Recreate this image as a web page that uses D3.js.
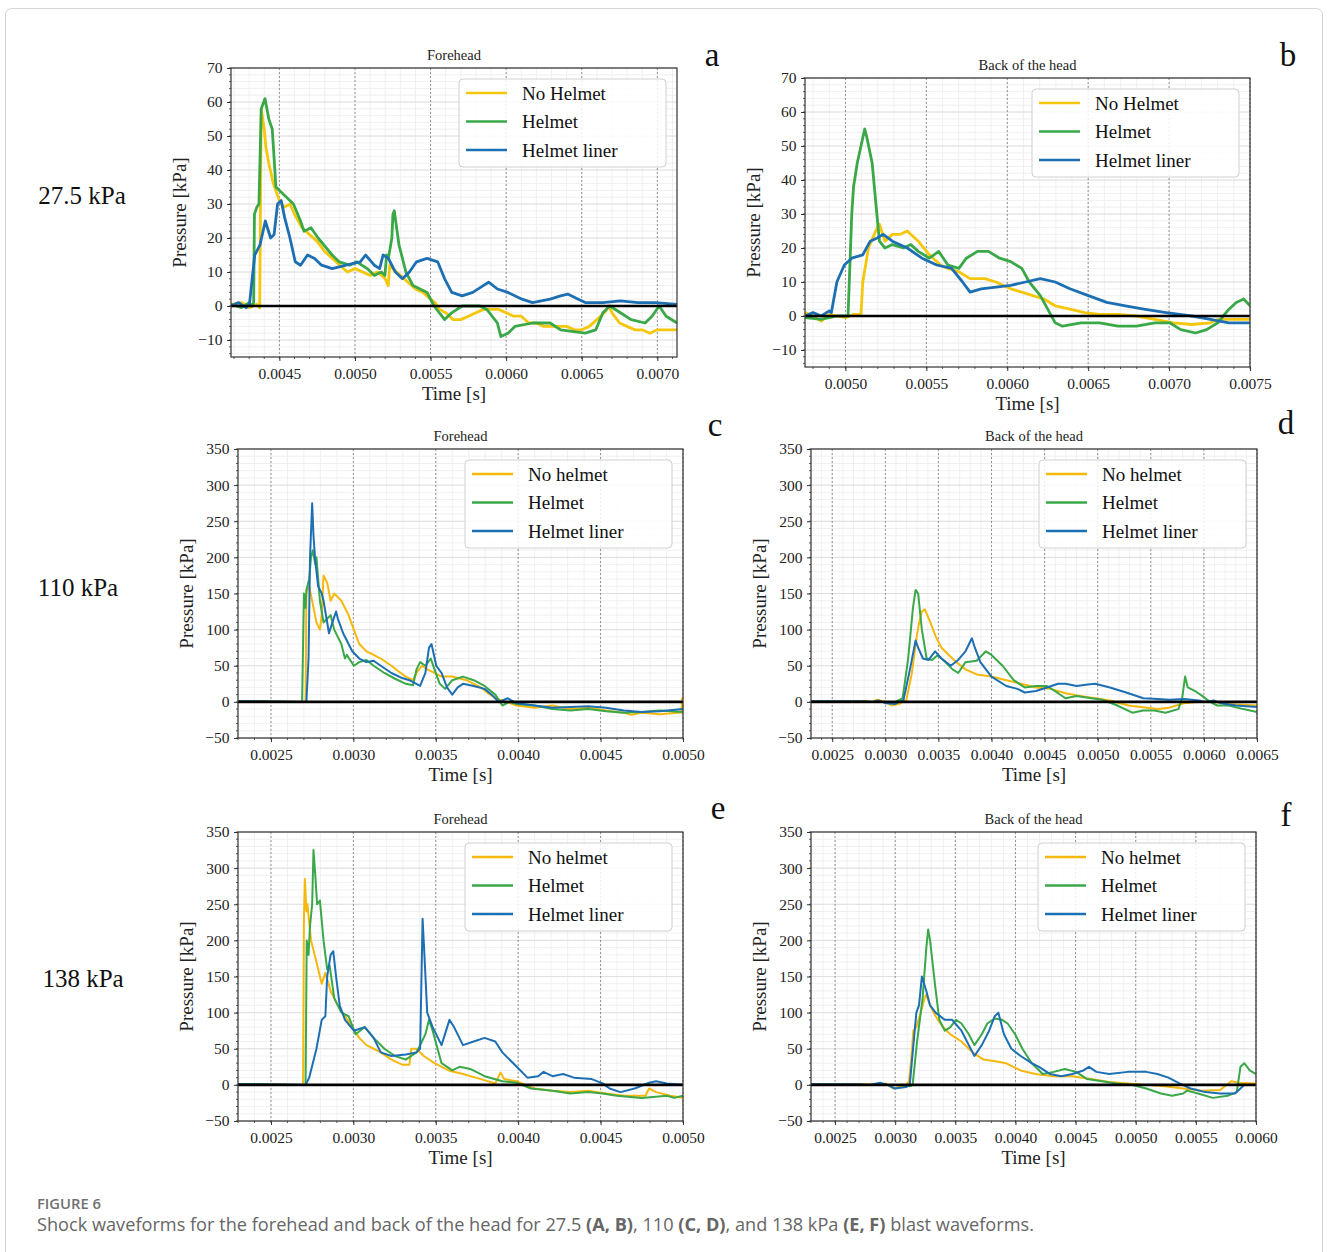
<!DOCTYPE html>
<html>
<head>
<meta charset="utf-8">
<script src="https://cdn.jsdelivr.net/npm/d3@7"></script>
<style>
  body { margin: 0; background: #fff; }
  svg { display: block; }
</style>
</head>
<body>
<div id="root"></div>
<script>
// values, time in microseconds, pressure in kPa
const aNoHelmet = [[4180,0.5],[4250,1],[4300,-0.5],[4350,0.5],[4370,-0.5],[4375,30],[4380,58],[4390,55],[4400,52],[4410,47],[4430,42],[4460,36],[4500,31],[4530,29],[4570,30],[4600,27],[4650,23],[4700,21],[4750,19],[4800,16],[4850,14],[4900,12],[4950,10],[5000,11],[5050,10],[5100,9],[5150,10],[5200,8],[5220,6],[5230,12],[5250,11],[5300,9],[5350,7],[5400,5],[5450,4],[5500,2],[5530,1],[5560,-1],[5600,-2],[5650,-4],[5700,-4],[5750,-3],[5800,-2],[5850,-1],[5900,-1],[5950,-1],[6000,-2],[6050,-3],[6100,-3],[6150,-5],[6200,-5],[6250,-6],[6300,-6],[6350,-6],[6400,-6],[6450,-7],[6500,-7],[6550,-6],[6600,-4],[6650,-2],[6680,0],[6700,-2],[6750,-5],[6800,-6],[6850,-7],[6900,-7],[6950,-8],[7000,-7],[7130,-7]];
const aHelmet = [[4180,0.5],[4250,-0.5],[4300,1],[4320,0],[4330,1],[4335,27],[4350,29],[4365,30],[4380,58],[4405,61],[4430,55],[4453,52],[4477,35],[4523,33],[4547,32],[4593,30],[4640,25],[4663,22],[4709,23],[4756,20],[4849,15],[4895,13],[4965,12],[5012,13],[5081,11],[5128,9],[5174,10],[5198,9],[5209,15],[5221,14],[5244,20],[5251,27],[5260,28],[5291,18],[5337,10],[5384,6],[5430,5],[5477,4],[5523,0],[5593,-4],[5640,-2],[5709,0],[5826,0],[5872,-1],[5942,-5],[5965,-9],[6012,-8],[6058,-6],[6174,-5],[6291,-5],[6360,-7],[6523,-8],[6593,-7],[6640,-2],[6686,0],[6756,-2],[6826,-4],[6919,-5],[6965,-3],[7012,0],[7058,-3],[7130,-5]];
const aLiner = [[4180,0],[4230,1],[4280,-0.5],[4302,0.5],[4337,15],[4372,18],[4407,25],[4442,20],[4465,21],[4488,30],[4512,31],[4535,26],[4570,20],[4605,13],[4640,12],[4686,15],[4733,14],[4779,12],[4849,11],[4942,12],[5035,13],[5070,15],[5128,12],[5163,11],[5186,15],[5221,14],[5267,10],[5314,8],[5360,10],[5407,13],[5477,14],[5547,13],[5593,8],[5640,4],[5709,3],[5779,4],[5849,6],[5884,7],[5942,5],[6012,4],[6105,2],[6174,1],[6291,2],[6360,3],[6407,3.5],[6477,2],[6523,1],[6640,1],[6756,1.5],[6872,1],[6988,1],[7130,0.5]];

const bNoHelmet = [[4750,1],[4800,0],[4850,-1.5],[4900,0.5],[4950,0],[5000,-0.5],[5050,0.5],[5096,0.5],[5107,10],[5142,20],[5187,25],[5210,27],[5244,22],[5290,24],[5336,24],[5382,25],[5450,22],[5519,18],[5587,15],[5633,14],[5701,13],[5770,11],[5861,11],[5930,10],[6021,8],[6090,7],[6158,6],[6227,5],[6296,3],[6387,2],[6478,1],[6570,0.5],[6684,0.5],[6798,0],[6913,-1],[7027,-2],[7141,-2.5],[7255,-2],[7301,-1],[7392,-1],[7500,-1]];
const bHelmet = [[4750,-0.5],[4850,-1],[4950,0],[5000,0],[5016,0],[5039,30],[5050,38],[5073,45],[5096,50],[5119,55],[5130,53],[5165,45],[5194,30],[5210,22],[5244,20],[5290,21],[5359,20],[5404,21],[5450,19],[5519,17],[5576,19],[5633,15],[5701,14],[5747,17],[5816,19],[5884,19],[5953,17],[6021,16],[6090,14],[6136,10],[6204,6],[6250,2],[6296,-2],[6341,-3],[6456,-2],[6570,-2],[6684,-3],[6798,-3],[6913,-2],[7004,-2],[7072,-4],[7164,-5],[7232,-4],[7301,-2],[7335,0],[7370,2],[7415,4],[7461,5],[7500,3]];
const bLiner = [[4750,0],[4800,1],[4850,0],[4900,1.5],[4913,1],[4947,10],[4993,15],[5039,17],[5107,18],[5153,22],[5199,23],[5233,24],[5290,22],[5382,20],[5473,17],[5564,15],[5656,14],[5724,10],[5770,7],[5839,8],[5930,8.5],[6021,9],[6113,10],[6204,11],[6296,10],[6387,8],[6501,6],[6615,4],[6730,3],[6844,2],[6981,1],[7141,0],[7255,-1],[7370,-2],[7500,-2]];

const cNoHelmet = [[2300,1],[2500,0.5],[2700,0],[2710,0],[2715,150],[2732,160],[2776,110],[2797,100],[2808,120],[2819,175],[2841,165],[2862,140],[2884,150],[2927,140],[2971,120],[3003,100],[3036,80],[3079,70],[3123,65],[3166,60],[3231,50],[3275,42],[3318,35],[3362,30],[3383,40],[3416,50],[3448,45],[3492,40],[3535,35],[3600,35],[3687,30],[3730,25],[3774,20],[3817,12],[3861,5],[3926,0],[3991,-5],[4099,-8],[4208,-5],[4316,-10],[4425,-8],[4533,-12],[4642,-15],[4685,-18],[4750,-15],[4859,-17],[4967,-15],[4990,-15],[4995,5],[5000,-12]];
const cHelmet = [[2300,0.5],[2689,0],[2700,150],[2710,130],[2715,155],[2732,170],[2743,200],[2754,210],[2769,190],[2776,200],[2797,140],[2819,110],[2841,115],[2862,120],[2884,100],[2927,80],[2949,60],[2960,65],[3003,50],[3036,55],[3079,58],[3123,50],[3188,40],[3253,32],[3318,25],[3362,23],[3383,45],[3405,55],[3437,50],[3470,60],[3492,45],[3524,25],[3557,18],[3600,30],[3665,35],[3730,30],[3796,22],[3861,10],[3904,-5],[3947,0],[3991,-3],[4099,-5],[4208,-10],[4316,-12],[4425,-10],[4533,-13],[4642,-15],[4750,-14],[4859,-12],[5000,-14]];
const cLiner = [[2300,1],[2710,0],[2715,0],[2728,60],[2737,200],[2750,275],[2758,230],[2767,200],[2786,160],[2808,150],[2819,140],[2852,95],[2873,110],[2895,125],[2906,115],[2938,95],[2993,70],[3036,60],[3079,55],[3123,57],[3166,50],[3231,40],[3296,33],[3340,30],[3405,22],[3437,40],[3459,75],[3474,80],[3503,50],[3535,40],[3568,20],[3600,10],[3633,20],[3665,25],[3730,22],[3796,18],[3839,10],[3882,0],[3937,5],[3991,-2],[4099,-5],[4208,-8],[4425,-6],[4533,-8],[4642,-12],[4750,-14],[4859,-13],[5000,-10]];

const dNoHelmet = [[2300,1],[2800,1],[2884,0],[2918,3],[3006,0],[3058,-5],[3128,-3],[3163,0],[3197,2],[3250,40],[3295,90],[3319,110],[3344,125],[3372,128],[3424,110],[3476,90],[3529,75],[3598,65],[3668,55],[3755,45],[3860,38],[3999,35],[4139,30],[4278,25],[4418,20],[4557,18],[4697,12],[4836,8],[4976,5],[5115,2],[5290,-5],[5464,-8],[5569,-10],[5673,-8],[5813,-2],[5952,0],[6092,0],[6231,-3],[6500,-5]];
const dHelmet = [[2300,0.5],[2900,0],[3050,0],[3093,0],[3163,5],[3215,60],[3260,130],[3285,155],[3309,150],[3344,100],[3389,60],[3441,58],[3494,65],[3564,55],[3633,45],[3686,40],[3755,55],[3860,57],[3947,70],[3999,65],[4104,50],[4209,30],[4313,20],[4418,22],[4522,22],[4627,12],[4697,5],[4801,8],[4941,5],[5046,3],[5185,-5],[5325,-15],[5429,-12],[5534,-12],[5638,-15],[5760,-10],[5795,5],[5823,35],[5848,20],[5917,15],[5987,8],[6057,0],[6126,-5],[6231,-5],[6371,-10],[6500,-14]];
const dLiner = [[2300,1],[2800,1],[2884,0],[2936,2],[3006,-2],[3093,-3],[3128,0],[3170,2],[3232,45],[3285,85],[3309,75],[3354,60],[3407,58],[3469,70],[3529,60],[3616,50],[3686,58],[3755,70],[3815,88],[3843,75],[3895,55],[3999,35],[4139,22],[4244,18],[4313,13],[4418,15],[4522,20],[4627,25],[4697,25],[4801,22],[4906,24],[4976,25],[5115,20],[5290,12],[5429,5],[5569,4],[5673,3],[5813,4],[5952,2],[6022,0],[6092,2],[6162,-2],[6301,-5],[6500,-7]];

const eNoHelmet = [[2300,1],[2690,0],[2695,0],[2700,230],[2706,285],[2715,240],[2721,250],[2743,200],[2776,170],[2797,150],[2808,140],[2830,155],[2862,130],[2906,110],[2949,95],[2993,80],[3036,65],[3079,55],[3123,50],[3166,45],[3231,35],[3296,28],[3340,28],[3351,50],[3383,50],[3427,40],[3492,30],[3578,20],[3665,15],[3774,8],[3861,2],[3893,17],[3915,8],[3991,5],[4099,-5],[4208,-8],[4316,-10],[4425,-8],[4533,-12],[4642,-15],[4772,-15],[4794,-5],[4837,-10],[4924,-15],[5000,-18]];
const eHelmet = [[2300,1],[2700,0],[2710,0],[2717,200],[2728,180],[2737,220],[2750,250],[2758,325],[2769,290],[2780,250],[2797,255],[2819,200],[2841,160],[2856,165],[2884,120],[2927,100],[2971,95],[3014,70],[3069,80],[3123,65],[3188,50],[3253,40],[3318,35],[3383,45],[3416,60],[3437,70],[3459,90],[3481,75],[3535,30],[3600,20],[3644,25],[3709,22],[3796,12],[3904,5],[3991,3],[4078,-5],[4208,-8],[4316,-12],[4425,-10],[4512,-12],[4598,-15],[4750,-18],[4902,-15],[4946,-18],[5000,-15]];
const eLiner = [[2300,1],[2710,0],[2732,10],[2776,50],[2808,90],[2830,95],[2841,150],[2862,180],[2878,185],[2895,150],[2917,110],[2949,90],[3003,75],[3069,80],[3123,65],[3166,45],[3231,40],[3318,42],[3383,45],[3405,50],[3420,230],[3431,180],[3448,100],[3481,80],[3535,55],[3583,90],[3611,80],[3665,55],[3730,60],[3796,65],[3861,60],[3904,45],[3991,25],[4056,10],[4121,12],[4154,18],[4208,12],[4273,15],[4338,10],[4446,8],[4512,2],[4555,-5],[4620,-10],[4707,-5],[4794,3],[4837,5],[4902,2],[5000,0]];

const fNoHelmet = [[2300,1],[2800,1],[2875,0],[2921,2],[2982,-5],[3059,-2],[3090,0],[3115,5],[3136,40],[3151,75],[3176,80],[3213,100],[3244,120],[3259,125],[3290,110],[3336,95],[3397,80],[3459,70],[3551,60],[3643,45],[3735,35],[3858,32],[3920,30],[4043,20],[4166,15],[4319,12],[4473,12],[4627,8],[4780,4],[4934,2],[5087,0],[5241,-2],[5395,-5],[5548,-8],[5702,-7],[5794,5],[5856,3],[6000,2]];
const fHelmet = [[2300,0.5],[2800,0],[3000,0],[3059,0],[3121,-2],[3145,0],[3182,60],[3228,120],[3259,190],[3274,215],[3290,200],[3330,140],[3367,90],[3413,75],[3459,80],[3505,90],[3551,85],[3612,70],[3659,55],[3720,70],[3766,85],[3828,92],[3889,90],[3935,85],[3997,70],[4058,50],[4135,30],[4227,15],[4319,18],[4411,22],[4504,18],[4596,8],[4719,5],[4842,2],[4965,0],[5087,-5],[5210,-12],[5303,-15],[5395,-12],[5426,-8],[5518,-12],[5641,-18],[5764,-15],[5840,-10],[5871,25],[5902,30],[5948,20],[6000,15]];
const fLiner = [[2300,1],[2700,1],[2783,0],[2875,3],[2936,0],[2998,-5],[3090,-3],[3121,0],[3176,100],[3198,110],[3222,150],[3259,130],[3290,110],[3336,100],[3413,90],[3474,90],[3551,75],[3612,55],[3659,40],[3720,55],[3781,75],[3828,95],[3858,100],[3904,70],[3966,50],[4043,40],[4135,30],[4196,25],[4288,15],[4381,12],[4473,15],[4565,20],[4611,25],[4673,18],[4780,15],[4934,18],[5087,18],[5180,15],[5272,10],[5364,2],[5456,-5],[5579,-10],[5702,-12],[5825,-12],[5871,-5],[5902,0],[6000,0]];

const legendTop = ['No Helmet', 'Helmet', 'Helmet liner'];
const legendLow = ['No helmet', 'Helmet', 'Helmet liner'];
const rowLabels = ['27.5 kPa', '110 kPa', '138 kPa'];
const titles = ['Forehead', 'Back of the head'];
const letters = ['a', 'b', 'c', 'd', 'e', 'f'];

const colorsTop = ['#f4c70c', '#3aa848', '#1d6fb3'];
const colorsLow = ['#f6b80c', '#3aa848', '#1d6fb3'];

const width = 1328;
const height = 1252;
const serif = '"Liberation Serif", "Times New Roman", serif';

const panels = [
    { series: [aNoHelmet, aHelmet, aLiner], left: 231, right: 677, top: 68, bottom: 357,
      xDom: [0.00418, 0.00713], xMaj: 0.0005, xMin: 0.0001, yDom: [-15, 70], yMaj: 10, yMin: 2,
      title: titles[0], legend: legendTop, colors: colorsTop, lw: 2.8, letter: [712, 55] },
    { series: [bNoHelmet, bHelmet, bLiner], left: 805, right: 1250, top: 78, bottom: 367,
      xDom: [0.00475, 0.0075], xMaj: 0.0005, xMin: 0.0001, yDom: [-15, 70], yMaj: 10, yMin: 2,
      title: titles[1], legend: legendTop, colors: colorsTop, lw: 2.8, letter: [1288, 55] },
    { series: [cNoHelmet, cHelmet, cLiner], left: 238, right: 683, top: 449, bottom: 738,
      xDom: [0.0023, 0.005], xMaj: 0.0005, xMin: 0.0001, yDom: [-50, 350], yMaj: 50, yMin: 10,
      title: titles[0], legend: legendLow, colors: colorsLow, lw: 2, letter: [715, 425] },
    { series: [dNoHelmet, dHelmet, dLiner], left: 811, right: 1257, top: 449, bottom: 738,
      xDom: [0.0023, 0.0065], xMaj: 0.0005, xMin: 0.0001, yDom: [-50, 350], yMaj: 50, yMin: 10,
      title: titles[1], legend: legendLow, colors: colorsLow, lw: 2, letter: [1286, 423] },
    { series: [eNoHelmet, eHelmet, eLiner], left: 238, right: 683, top: 832, bottom: 1121,
      xDom: [0.0023, 0.005], xMaj: 0.0005, xMin: 0.0001, yDom: [-50, 350], yMaj: 50, yMin: 10,
      title: titles[0], legend: legendLow, colors: colorsLow, lw: 2, letter: [718, 808] },
    { series: [fNoHelmet, fHelmet, fLiner], left: 811, right: 1256, top: 832, bottom: 1121,
      xDom: [0.0023, 0.006], xMaj: 0.0005, xMin: 0.0001, yDom: [-50, 350], yMaj: 50, yMin: 10,
      title: titles[1], legend: legendLow, colors: colorsLow, lw: 2, letter: [1286, 815] }
];

const svg = d3.select('#root').append('svg')
    .attr('width', width)
    .attr('height', height);

svg.append('rect')
    .attr('x', 5.5).attr('y', 8.5)
    .attr('width', 1317).attr('height', 1270)
    .attr('rx', 6)
    .attr('fill', '#fff')
    .attr('stroke', '#d4d4d4');

// build a tick list from a step, avoiding float drift
const stepTicks = (dom, step) => {
    const out = [];
    const k0 = Math.ceil(dom[0] / step - 1e-6);
    const k1 = Math.floor(dom[1] / step + 1e-6);
    for (let k = k0; k <= k1; k++) out.push(+(k * step).toPrecision(10));
    return out;
};

panels.forEach((p, pi) => {
    const x = d3.scaleLinear().domain(p.xDom).range([p.left, p.right]);
    const y = d3.scaleLinear().domain(p.yDom).range([p.bottom, p.top]);
    const g = svg.append('g');

    const xMajor = stepTicks(p.xDom, p.xMaj);
    const yMajor = stepTicks(p.yDom, p.yMaj);
    const xMinor = stepTicks(p.xDom, p.xMin);
    const yMinor = stepTicks(p.yDom, p.yMin);

    // minor grid
    g.append('g').selectAll('line').data(xMinor).join('line')
        .attr('x1', d => x(d)).attr('x2', d => x(d))
        .attr('y1', p.top).attr('y2', p.bottom)
        .attr('stroke', '#ececec').attr('stroke-width', 0.8);
    g.append('g').selectAll('line').data(yMinor).join('line')
        .attr('x1', p.left).attr('x2', p.right)
        .attr('y1', d => y(d)).attr('y2', d => y(d))
        .attr('stroke', '#ececec').attr('stroke-width', 0.8);

    // major grid
    g.append('g').selectAll('line').data(yMajor).join('line')
        .attr('x1', p.left).attr('x2', p.right)
        .attr('y1', d => y(d)).attr('y2', d => y(d))
        .attr('stroke', '#dcdcdc').attr('stroke-width', 0.8);
    g.append('g').selectAll('line').data(xMajor).join('line')
        .attr('x1', d => x(d)).attr('x2', d => x(d))
        .attr('y1', p.top).attr('y2', p.bottom)
        .attr('stroke', '#7a7a7a').attr('stroke-width', 0.8)
        .attr('stroke-dasharray', '2,2');

    // series
    const clipId = 'clip' + pi;
    svg.append('clipPath').attr('id', clipId).append('rect')
        .attr('x', p.left).attr('y', p.top)
        .attr('width', p.right - p.left).attr('height', p.bottom - p.top);

    const line = d3.line()
        .x(d => x(d[0] * 1e-6))
        .y(d => y(d[1]));

    p.series.forEach((s, si) => {
        g.append('path')
            .datum(s)
            .attr('clip-path', `url(#${clipId})`)
            .attr('d', line)
            .attr('fill', 'none')
            .attr('stroke', p.colors[si])
            .attr('stroke-width', p.lw)
            .attr('stroke-linejoin', 'round');
    });

    // zero line
    g.append('line')
        .attr('x1', p.left).attr('x2', p.right)
        .attr('y1', y(0)).attr('y2', y(0))
        .attr('stroke', '#000').attr('stroke-width', 2.6);

    // axes
    const xAxis = d3.axisBottom(x).tickValues(xMajor).tickSize(4).tickFormat(d3.format('.4f'));
    const yAxis = d3.axisLeft(y).tickValues(yMajor).tickSize(4).tickFormat(d3.format('d'));

    const gx = g.append('g').attr('transform', `translate(0,${p.bottom})`).call(xAxis);
    const gy = g.append('g').attr('transform', `translate(${p.left},0)`).call(yAxis);
    [gx, gy].forEach(ax => {
        ax.select('.domain').remove();
        ax.selectAll('line').attr('stroke', '#333');
        ax.selectAll('text')
            .attr('font-family', serif)
            .attr('font-size', 15.5)
            .attr('fill', '#222');
    });
    gx.selectAll('text').attr('dy', '0.95em');
    gy.selectAll('text').attr('dx', '-0.1em');

    // minor ticks
    g.append('g').selectAll('line').data(xMinor).join('line')
        .attr('x1', d => x(d)).attr('x2', d => x(d))
        .attr('y1', p.bottom).attr('y2', p.bottom + 2)
        .attr('stroke', '#333').attr('stroke-width', 0.8);
    g.append('g').selectAll('line').data(yMinor).join('line')
        .attr('x1', p.left - 2).attr('x2', p.left)
        .attr('y1', d => y(d)).attr('y2', d => y(d))
        .attr('stroke', '#333').attr('stroke-width', 0.8);

    // frame
    g.append('rect')
        .attr('x', p.left).attr('y', p.top)
        .attr('width', p.right - p.left).attr('height', p.bottom - p.top)
        .attr('fill', 'none').attr('stroke', '#333').attr('stroke-width', 1.2);

    // legend
    const lx = p.right - 218;
    const ly = p.top + 11;
    const lg = g.append('g').attr('transform', `translate(${lx},${ly})`);
    lg.append('rect')
        .attr('width', 207).attr('height', 88).attr('rx', 4)
        .attr('fill', 'rgba(255,255,255,0.85)')
        .attr('stroke', '#d0d0d0');
    p.legend.forEach((name, i) => {
        const yy = 14 + i * 28.5;
        lg.append('line')
            .attr('x1', 7).attr('x2', 48)
            .attr('y1', yy).attr('y2', yy)
            .attr('stroke', p.colors[i]).attr('stroke-width', 2.4);
        lg.append('text')
            .attr('x', 63).attr('y', yy)
            .attr('dominant-baseline', 'central')
            .attr('font-family', serif).attr('font-size', 19)
            .attr('fill', '#111')
            .text(name);
    });

    // titles and labels
    const cx = (p.left + p.right) / 2;
    g.append('text')
        .attr('x', cx).attr('y', p.top - 8)
        .attr('text-anchor', 'middle')
        .attr('font-family', serif).attr('font-size', 14.5).attr('fill', '#222')
        .text(p.title);
    g.append('text')
        .attr('x', cx).attr('y', p.bottom + 43)
        .attr('text-anchor', 'middle')
        .attr('font-family', serif).attr('font-size', 19).attr('fill', '#222')
        .text('Time [s]');
    g.append('text')
        .attr('transform', `translate(${p.left - 45},${(p.top + p.bottom) / 2}) rotate(-90)`)
        .attr('text-anchor', 'middle')
        .attr('font-family', serif).attr('font-size', 19).attr('fill', '#222')
        .text('Pressure [kPa]');
    g.append('text')
        .attr('x', p.letter[0]).attr('y', p.letter[1])
        .attr('text-anchor', 'middle')
        .attr('dominant-baseline', 'central')
        .attr('font-family', serif).attr('font-size', 33).attr('fill', '#111')
        .text(letters[pi]);
});

// row labels
const rowY = [195, 587, 978];
const rowX = [82, 78, 83];
rowLabels.forEach((t, i) => {
    svg.append('text')
        .attr('x', rowX[i]).attr('y', rowY[i])
        .attr('text-anchor', 'middle')
        .attr('dominant-baseline', 'central')
        .attr('font-family', serif).attr('font-size', 25).attr('fill', '#111')
        .text(t);
});

// caption, sized so it spans the same width as the original
const sans = '"Open Sans", "Noto Sans", sans-serif';
const fitWidth = (sel, target, size) => {
    const w = sel.node().getComputedTextLength();
    sel.attr('font-size', size * target / w);
};

const figLabel = svg.append('text')
    .attr('x', 37).attr('y', 1209)
    .attr('font-family', sans).attr('font-weight', 600)
    .attr('font-size', 14).attr('fill', '#707070')
    .text('FIGURE 6');
fitWidth(figLabel, 64, 14);

const captionParts = [
    ['Shock waveforms for the forehead and back of the head for 27.5 ', false],
    ['(A, B)', true], [', 110 ', false], ['(C, D)', true],
    [', and 138 kPa ', false], ['(E, F)', true], [' blast waveforms.', false]
];
const cap = svg.append('text')
    .attr('x', 37).attr('y', 1231)
    .attr('font-family', sans).attr('font-size', 17).attr('fill', '#666');
captionParts.forEach(([t, b]) => {
    cap.append('tspan').attr('font-weight', b ? 700 : 400).text(t);
});
fitWidth(cap, 998, 17);
</script>
</body>
</html>
